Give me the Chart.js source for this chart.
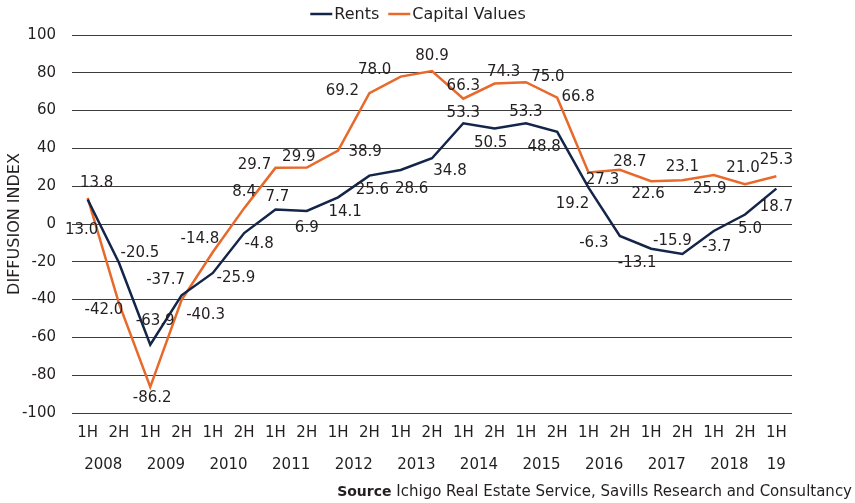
<!DOCTYPE html>
<html><head><meta charset="utf-8">
<script src="https://cdn.jsdelivr.net/npm/chart.js@4"></script>
<style>html,body{margin:0;padding:0;background:#fff}#wrap{width:855px;height:503px;position:relative}</style>
</head><body><div id="wrap"><canvas id="c" width="855" height="503"></canvas></div>
<script>
const halfLabels = ['1H','2H','1H','2H','1H','2H','1H','2H','1H','2H','1H','2H','1H','2H','1H','2H','1H','2H','1H','2H','1H','2H','1H'];
const yearLabels = ['2008','2009','2010','2011','2012','2013','2014','2015','2016','2017','2018','19'];
const yearPositions = [0.5,2.5,4.5,6.5,8.5,10.5,12.5,14.5,16.5,18.5,20.5,22];
const rents = [13.0,-20.5,-63.9,-37.7,-25.9,-4.8,7.7,6.9,14.1,25.6,28.6,34.8,53.3,50.5,53.3,48.8,19.2,-6.3,-13.1,-15.9,-3.7,5.0,18.7];
const capitalValues = [13.8,-42.0,-86.2,-40.3,-14.8,8.4,29.7,29.9,38.9,69.2,78.0,80.9,66.3,74.3,75.0,66.8,27.3,28.7,22.6,23.1,25.9,21.0,25.3];
const seriesNames = ['Rents','Capital Values'];
const yMin = -100, yMax = 100, yStep = 20;
const yTitle = 'DIFFUSION INDEX';
const sourceBold = 'Source';
const sourceText = ' Ichigo Real Estate Service, Savills Research and Consultancy';

// label placement offsets (px) relative to each point
const rentsLabelOffsets = [[-6,31],[21,-10],[5,-24],[-16,-15],[23,5],[15,11],[2,-12],[0,17],[7,15],[3,14],[11,19],[18,13],[0,-10],[-4,15],[0,-11],[-13,15],[-16,16],[-26,7],[-14,14],[-10,-13],[3,16],[5,15],[0,18]];
const capitalLabelOffsets = [[9,-15],[-15,7],[2,11],[24,15],[-13,-13],[0,-16],[-21,-3],[-8,-10],[27,2],[-27,-2],[-26,-6],[0,-15],[0,-13],[9,-11],[22,-5],[21,-1],[14,8],[10,-8],[-3,13],[0,-13],[-4,14],[-2,-16],[0,-16]];

const FONT = 'DejaVu Sans';
const TXT = '#231f20';
const NAVY = '#14254a';
const ORANGE = '#e8692a';

const labelPlugin = {
  id: 'labels',
  afterDatasetsDraw(chart) {
    const ctx = chart.ctx;
    const offs = [rentsLabelOffsets, capitalLabelOffsets];
    ctx.save();
    ctx.font = '15px "' + FONT + '"';
    ctx.fillStyle = TXT;
    ctx.textAlign = 'center';
    ctx.textBaseline = 'middle';
    chart.data.datasets.forEach((ds, di) => {
      const meta = chart.getDatasetMeta(di);
      meta.data.forEach((pt, i) => {
        const o = offs[di][i];
        ctx.fillText(ds.data[i].toFixed(1), pt.x + o[0], pt.y + o[1]);
      });
    });
    ctx.restore();
  },
  afterDraw(chart) {
    const ctx = chart.ctx;
    ctx.save();
    // legend
    ctx.font = '16px "' + FONT + '"';
    ctx.textBaseline = 'middle';
    const ds = chart.data.datasets;
    const lineW = 22, gap = 2, sep = 9;
    const w0 = ctx.measureText(ds[0].label).width;
    const w1 = ctx.measureText(ds[1].label).width;
    const total = lineW + gap + w0 + sep + lineW + gap + w1;
    let x = 418 - total / 2;
    const ly = 14;
    [0,1].forEach(i => {
      ctx.strokeStyle = ds[i].borderColor;
      ctx.lineWidth = 2.5;
      ctx.beginPath(); ctx.moveTo(x, ly); ctx.lineTo(x + lineW, ly); ctx.stroke();
      x += lineW + gap;
      ctx.fillStyle = TXT;
      ctx.textAlign = 'left';
      ctx.fillText(ds[i].label, x, ly + 1);
      x += (i === 0 ? w0 : w1) + sep;
    });
    // source
    ctx.font = 'bold 14px "' + FONT + '"';
    const wb = ctx.measureText(sourceBold).width;
    ctx.font = '15px "' + FONT + '"';
    const wr = ctx.measureText(sourceText).width;
    const sx = 852 - wb - wr;
    ctx.fillStyle = TXT;
    ctx.textAlign = 'left';
    ctx.font = 'bold 14px "' + FONT + '"';
    ctx.fillText(sourceBold, sx, 492);
    ctx.font = '15px "' + FONT + '"';
    ctx.fillText(sourceText, sx + wb, 492);
    ctx.restore();
  }
};

new Chart(document.getElementById('c'), {
  type: 'line',
  data: {
    labels: halfLabels,
    datasets: [
      { label: seriesNames[0], data: rents, borderColor: NAVY, backgroundColor: NAVY, borderWidth: 2.5, pointRadius: 0, tension: 0, fill: false },
      { label: seriesNames[1], data: capitalValues, borderColor: ORANGE, backgroundColor: ORANGE, borderWidth: 2.5, pointRadius: 0, tension: 0, fill: false }
    ]
  },
  options: {
    responsive: false,
    animation: false,
    devicePixelRatio: 1,
    layout: { padding: { left: 0, right: 63, top: 35, bottom: 28 } },
    plugins: { legend: { display: false }, tooltip: { enabled: false } },
    scales: {
      x: {
        type: 'category', position: 'bottom', offset: true,
        grid: { display: false, drawTicks: false }, border: { display: false },
        ticks: { color: TXT, font: { family: FONT, size: 15 }, padding: 11, maxRotation: 0, autoSkip: false },
        afterFit(s) { s.height = 30; }
      },
      x2: {
        type: 'linear', position: 'bottom', min: -0.5, max: 22.5,
        grid: { display: false, drawTicks: false }, border: { display: false },
        afterBuildTicks(s) { s.ticks = yearPositions.map(v => ({ value: v })); },
        ticks: { color: TXT, font: { family: FONT, size: 15 }, padding: 13, maxRotation: 0, autoSkip: false,
          callback: (v, i) => yearLabels[i] },
        afterFit(s) { s.height = 32; }
      },
      y: {
        min: yMin, max: yMax,
        grid: { color: '#3c3c3c', lineWidth: 1, drawTicks: false }, border: { display: false },
        ticks: { stepSize: yStep, color: TXT, font: { family: FONT, size: 15 }, padding: 16 },
        title: { display: true, text: yTitle, color: TXT, font: { family: FONT, size: 16 }, padding: { top: 5, bottom: 0 } },
        afterFit(s) { s.width = 72; }
      }
    }
  },
  plugins: [labelPlugin]
});
</script></body></html>
